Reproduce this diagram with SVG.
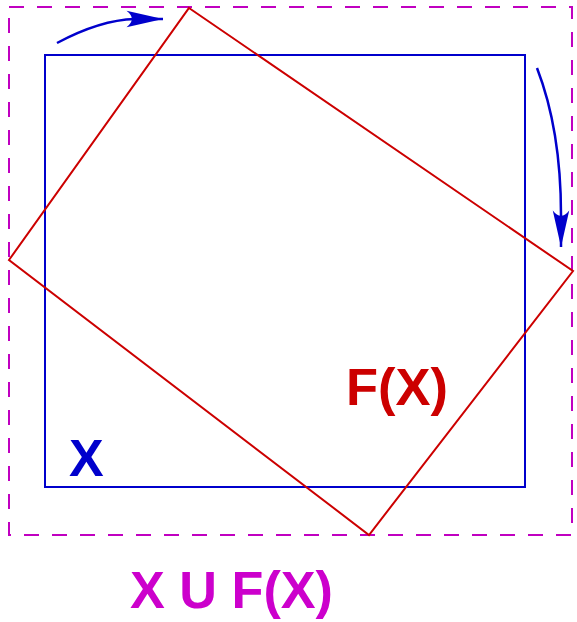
<svg xmlns="http://www.w3.org/2000/svg" width="577" height="622" viewBox="0 0 577 622">
<style>
.union{fill:none;stroke:#c000c0;stroke-width:2;stroke-dasharray:15,13}
.x{fill:none;stroke:#0000cc;stroke-width:2}
.fx{fill:none;stroke:#cc0000;stroke-width:2}
.arr{fill:none;stroke:#0000cc;stroke-width:2.5}
.lbl{font-family:"Liberation Sans",Arial,sans-serif;font-weight:bold;font-size:52px}
</style>
<defs>
<marker id="ah" markerUnits="userSpaceOnUse" markerWidth="40" markerHeight="20" viewBox="-32 -8 34 16" refX="0" refY="0" orient="auto">
<path d="M0,0 L-31,-7 Q-22,0 -31,7 Z" fill="#0000cc"/>
</marker>
</defs>
<rect width="577" height="622" fill="#fff"/>
<g id="union">
<rect class="union" x="9" y="7" width="563" height="528"/>
<text class="lbl" x="130" y="608" fill="#cc00cc" textLength="203" lengthAdjust="spacingAndGlyphs">X U F(X)</text>
</g>
<g id="setX">
<rect class="x" x="45" y="55" width="480" height="432"/>
<text class="lbl" x="69" y="476" fill="#0000cc">X</text>
</g>
<g id="setFX">
<polygon class="fx" points="189,8 573,271 369,535 9,260"/>
<text class="lbl" x="346" y="405" fill="#cc0000" textLength="102" lengthAdjust="spacingAndGlyphs">F(X)</text>
</g>
<g id="connectors">
<path class="arr" d="M57,43 Q100,20 135,19 L163,19" marker-end="url(#ah)"/>
<path class="arr" d="M537,68 Q561,130 561,215 L561,247" marker-end="url(#ah)"/>
</g>
</svg>
